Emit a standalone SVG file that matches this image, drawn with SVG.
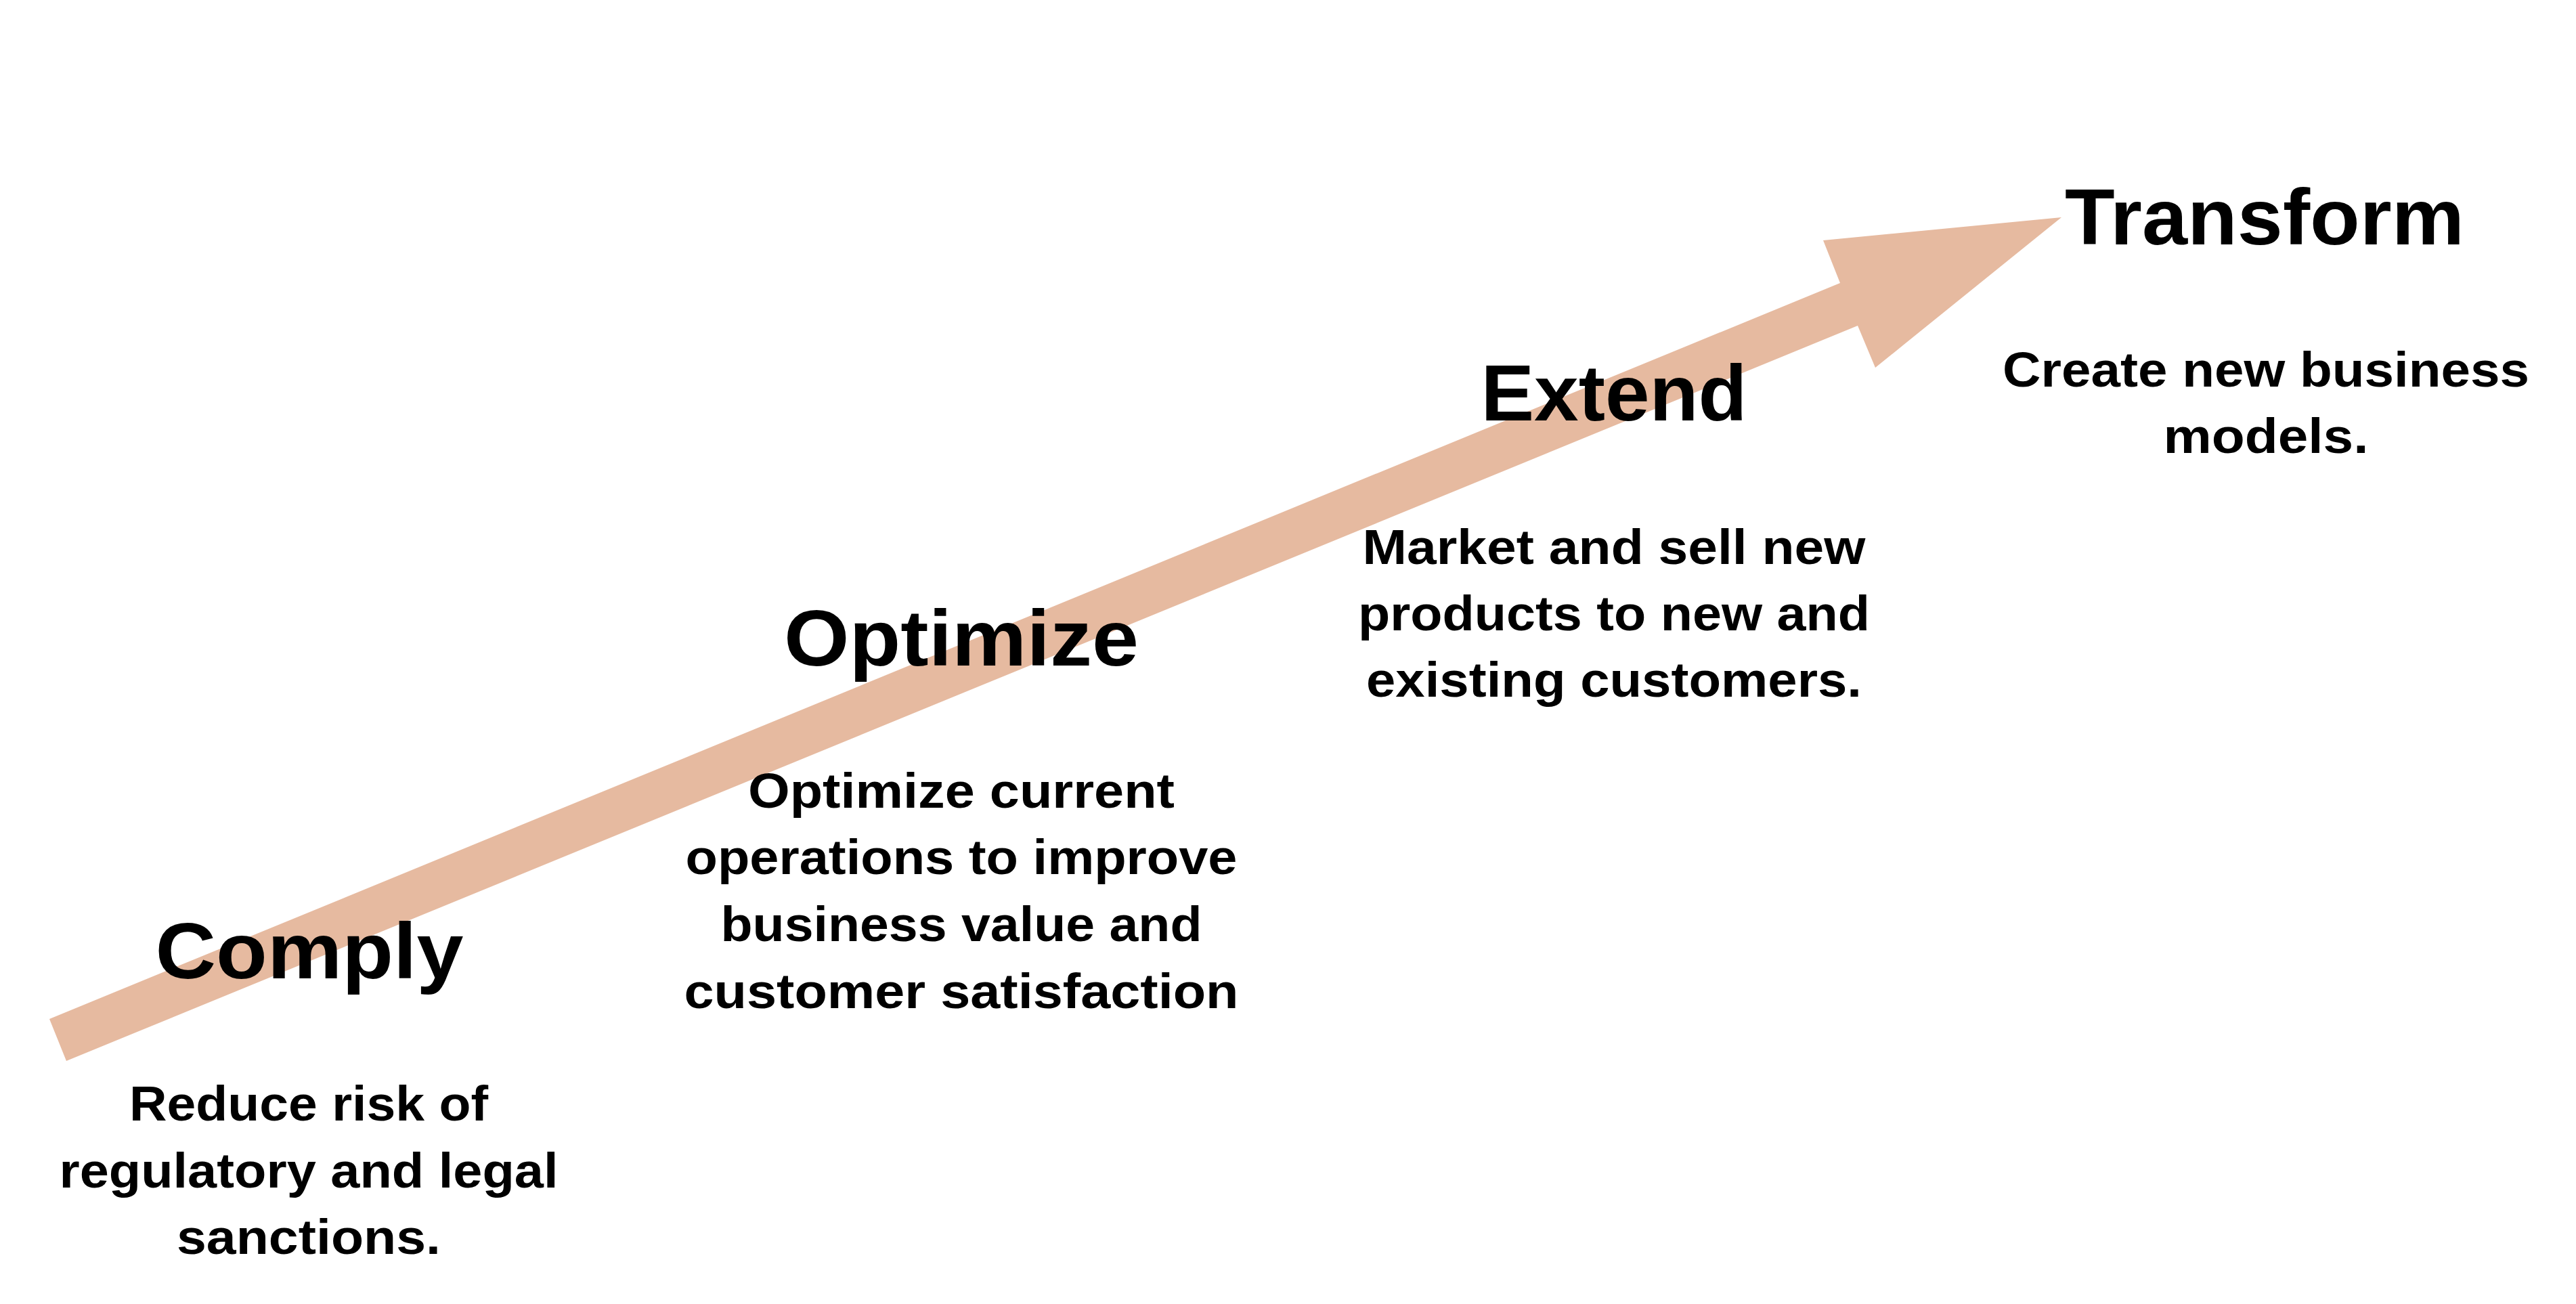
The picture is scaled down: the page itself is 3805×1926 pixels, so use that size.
<svg xmlns="http://www.w3.org/2000/svg" width="3805" height="1926" viewBox="0 0 3805 1926">
  <style>
    .title { font-family: "Liberation Sans", Arial, sans-serif; font-weight: bold; font-size: 116px; fill: #000; text-anchor: middle; }
    .body { font-family: "Liberation Sans", Arial, sans-serif; font-weight: bold; font-size: 72px; fill: #000; text-anchor: middle; }
    .arrow { fill: #E6BAA0; stroke: none; }
  </style>
  <rect x="0" y="0" width="3805" height="1926" fill="#FFFFFF"/>
  <g id="connectors">
    <polygon class="arrow" points="73,1505 2718,418 2693,355 3045,321 2770,543 2744,481 98,1567"/>
  </g>
  <g id="comply">
    <text class="title" x="457" y="1445" textLength="455" lengthAdjust="spacingAndGlyphs">Comply</text>
    <text class="body" x="456" y="1655" textLength="530" lengthAdjust="spacingAndGlyphs">Reduce risk of</text>
    <text class="body" x="456" y="1754" textLength="737" lengthAdjust="spacingAndGlyphs">regulatory and legal</text>
    <text class="body" x="456" y="1852" textLength="390" lengthAdjust="spacingAndGlyphs">sanctions.</text>
  </g>
  <g id="optimize">
    <text class="title" x="1420" y="983" textLength="524" lengthAdjust="spacingAndGlyphs">Optimize</text>
    <text class="body" x="1420" y="1193" textLength="630" lengthAdjust="spacingAndGlyphs">Optimize current</text>
    <text class="body" x="1420" y="1291" textLength="815" lengthAdjust="spacingAndGlyphs">operations to improve</text>
    <text class="body" x="1420" y="1390" textLength="711" lengthAdjust="spacingAndGlyphs">business value and</text>
    <text class="body" x="1420" y="1489" textLength="819" lengthAdjust="spacingAndGlyphs">customer satisfaction</text>
  </g>
  <g id="extend">
    <text class="title" x="2384" y="621" textLength="393" lengthAdjust="spacingAndGlyphs">Extend</text>
    <text class="body" x="2384" y="833" textLength="743" lengthAdjust="spacingAndGlyphs">Market and sell new</text>
    <text class="body" x="2384" y="931" textLength="756" lengthAdjust="spacingAndGlyphs">products to new and</text>
    <text class="body" x="2384" y="1029" textLength="732" lengthAdjust="spacingAndGlyphs">existing customers.</text>
  </g>
  <g id="transform">
    <text class="title" x="3345" y="361" textLength="590" lengthAdjust="spacingAndGlyphs">Transform</text>
    <text class="body" x="3347" y="571" textLength="778" lengthAdjust="spacingAndGlyphs">Create new business</text>
    <text class="body" x="3347" y="669" textLength="303" lengthAdjust="spacingAndGlyphs">models.</text>
  </g>
</svg>
